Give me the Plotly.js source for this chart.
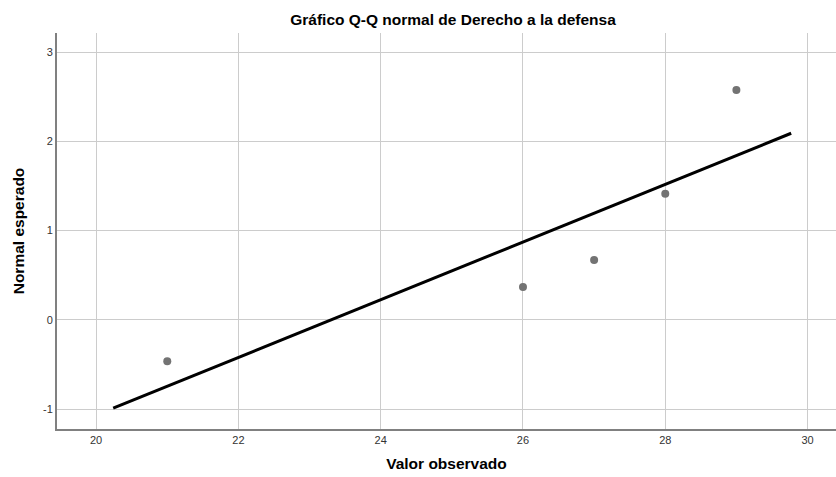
<!DOCTYPE html>
<html>
<head>
<meta charset="utf-8">
<script src="https://cdn.plot.ly/plotly-3.0.1.min.js"></script>
<style>html,body{margin:0;padding:0;background:#fff;}#chart{width:836px;height:477px;}</style>
</head>
<body>
<div id="chart"></div>
<script>
const observed = [21, 26, 27, 28, 29];
const expectedNormal = [-0.464, 0.369, 0.672, 1.415, 2.577];
const lineX = [20.24, 29.77];
const lineY = [-0.991, 2.092];
const xTicks = [20, 22, 24, 26, 28, 30];
const yTicks = [-1, 0, 1, 2, 3];

const data = [
  {x: lineX, y: lineY, type: 'scatter', mode: 'lines',
   line: {color: '#000000', width: 3}, hoverinfo: 'skip', showlegend: false},
  {x: observed, y: expectedNormal, type: 'scatter', mode: 'markers',
   marker: {color: '#737373', size: 8}, showlegend: false}
];
const layout = {
  width: 836, height: 477,
  margin: {l: 57, r: 0, t: 33, b: 48},
  paper_bgcolor: '#ffffff', plot_bgcolor: '#ffffff',
  font: {family: 'Liberation Sans, Arial, sans-serif', color: '#333333', size: 11},
  title: {text: '<b>Gráfico Q-Q normal de Derecho a la defensa</b>', x: 425/836, xanchor: 'center', xref: 'paper',
          y: 1 - 20/477, yanchor: 'middle', font: {size: 15.5, color: '#000000'}},
  xaxis: {range: [19.45, 30.40], tickvals: xTicks, ticktext: xTicks.map(String),
          showgrid: true, gridcolor: '#cccccc', gridwidth: 1, zeroline: false,
          showline: true, linecolor: '#808080', linewidth: 2, ticks: '', ticklen: 0,
          title: {text: '<b>Valor observado</b>', font: {size: 15.5, color: '#000000'}, standoff: 13}},
  yaxis: {range: [-1.224, 3.216], tickvals: yTicks, ticktext: yTicks.map(String),
          showgrid: true, gridcolor: '#cccccc', gridwidth: 1, zeroline: false,
          showline: true, linecolor: '#808080', linewidth: 2, ticks: '', ticklen: 0,
          title: {text: '<b>Normal esperado</b>', font: {size: 15.5, color: '#000000'}, standoff: 15}}
};
Plotly.newPlot('chart', data, layout, {displayModeBar: false, staticPlot: true});
</script>
</body>
</html>
